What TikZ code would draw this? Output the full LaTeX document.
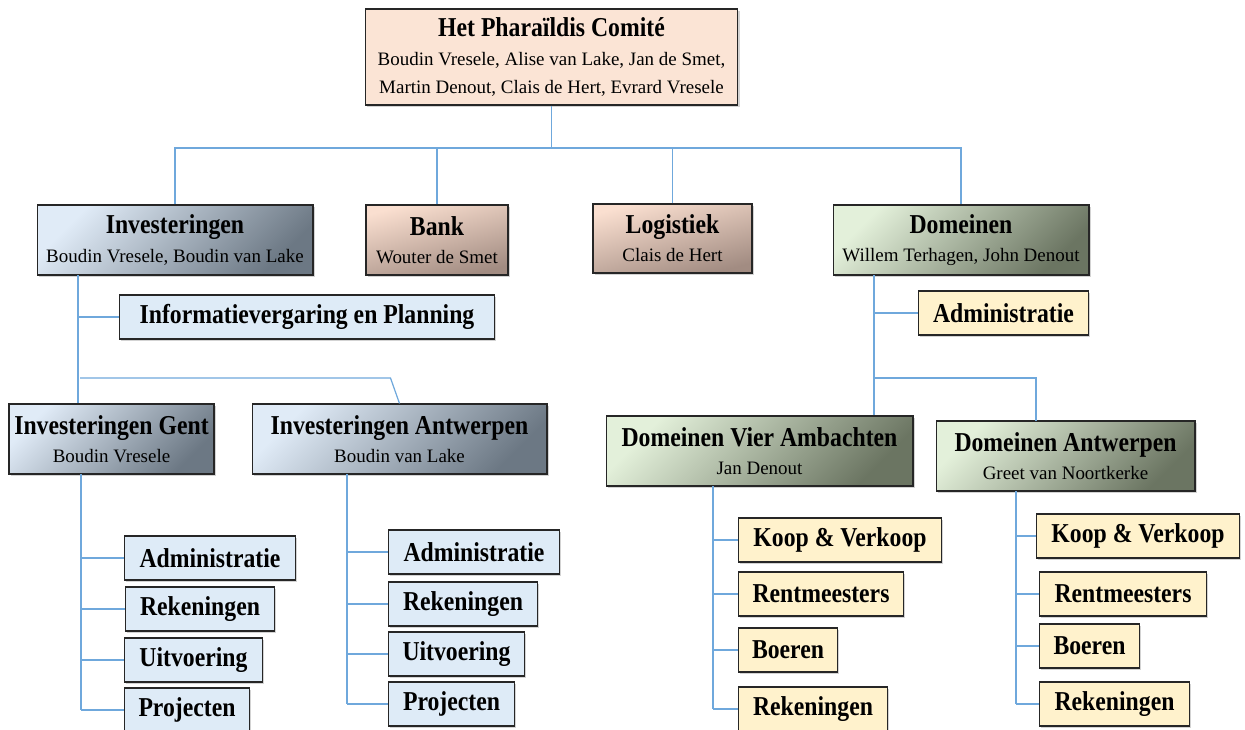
\documentclass[tikz,border=0pt]{standalone}
\usepackage{fontspec}
\setmainfont{Liberation Serif}
\usepackage{graphicx}
\usetikzlibrary{calc,shadows}

\definecolor{comite}{HTML}{FBE4D5}
\definecolor{invlight}{HTML}{E0EBF7}
\definecolor{invdark}{HTML}{6C7884}
\definecolor{banklight}{HTML}{FADFD0}
\definecolor{bankdark}{HTML}{A28C82}
\definecolor{domlight}{HTML}{E3F0DA}
\definecolor{domdark}{HTML}{6B7562}
\definecolor{itemblue}{HTML}{DEEBF7}
\definecolor{itemyellow}{HTML}{FFF2CC}
\definecolor{linkblue}{HTML}{6FA8DC}

\newcommand{\ttl}[1]{{\fontsize{13.5}{16}\selectfont\bfseries\scalebox{1}[1.15]{#1}}}
\newcommand{\nms}[1]{{\fontsize{10.8}{13}\selectfont #1}}

\tikzset{
  box/.style={draw=black!85, line width=0.6pt, align=center, inner sep=2pt,
    drop shadow={shadow xshift=1pt, shadow yshift=-1pt, opacity=0.35},
    execute at begin node=\setlength{\baselineskip}{16pt}},
  invbox/.style={box, top color=invlight, bottom color=invdark, shading angle=45},
  bankbox/.style={box, top color=banklight, bottom color=bankdark, shading angle=15},
  dombox/.style={box, top color=domlight, bottom color=domdark, shading angle=45},
  blueitem/.style={box, fill=itemblue, anchor=west, minimum height=0.88cm},
  yellowitem/.style={box, fill=itemyellow, anchor=west, minimum height=0.88cm},
  link/.style={draw=linkblue, line width=0.7pt},
}

\begin{document}
\begin{tikzpicture}[x=0.02cm, y=-0.02cm]
\useasboundingbox (0,0) rectangle (1245,730);

%% COMITE
\node[box, fill=comite, minimum width=7.46cm, minimum height=1.92cm](comite) at (551.5,57)
  {\ttl{Het Pharaïldis Comité}\\ \nms{Boudin Vresele, Alise van Lake, Jan de Smet,}\\ \nms{Martin Denout, Clais de Hert, Evrard Vresele}};

%% DEPARTMENTS
\node[invbox, minimum width=5.52cm, minimum height=1.4cm](inv) at (175,240)
  {\ttl{Investeringen}\\ \nms{Boudin Vresele, Boudin van Lake}};
\node[bankbox, minimum width=2.84cm, minimum height=1.4cm](bank) at (437,240)
  {\ttl{Bank}\\ \nms{Wouter de Smet}};
\node[bankbox, minimum width=3.18cm, minimum height=1.38cm](log) at (672.5,238.5)
  {\ttl{Logistiek}\\ \nms{Clais de Hert}};
\node[dombox, minimum width=5.12cm, minimum height=1.4cm](dom) at (961,240)
  {\ttl{Domeinen}\\ \nms{Willem Terhagen, John Denout}};

\coordinate (bus_top) at (551,148);
\draw[link] (comite.south) -- (comite.south |- bus_top);
\draw[link] (inv.north) |- (bus_top) -| (dom.north);
\draw[link] (bank.north) -- (bank.north |- bus_top);
\draw[link] (log.north) -- (log.north |- bus_top);

%% INVESTERINGEN
\node[blueitem, minimum width=7.5cm](inv_info) at (119,317) {\ttl{Informatievergaring en Planning}};
\node[invbox, minimum width=4.1cm, minimum height=1.4cm](inv_gent) at (111.5,439)
  {\ttl{Investeringen Gent}\\ \nms{Boudin Vresele}};
\node[invbox, minimum width=5.9cm, minimum height=1.4cm](inv_antw) at (399.5,439)
  {\ttl{Investeringen Antwerpen}\\ \nms{Boudin van Lake}};

\coordinate (inv_trunk) at (78,275);
\coordinate (inv_bus) at (80,378);
\draw[link] (inv_trunk) -- (inv_trunk |- inv_gent.north);
\draw[link] (inv_trunk |- inv_info.west) -- (inv_info.west);
\draw[link] (inv_bus) -- ($(inv_antw.north |- inv_bus)+(-9,0)$) -- (inv_antw.north);

% Gent
\node[blueitem, minimum width=3.42cm](g_adm) at (124,558) {\ttl{Administratie}};
\node[blueitem, minimum width=2.98cm](g_rek) at (125,609) {\ttl{Rekeningen}};
\node[blueitem, minimum width=2.76cm](g_uit) at (124,660) {\ttl{Uitvoering}};
\node[blueitem, minimum width=2.5cm](g_proj) at (124,710) {\ttl{Projecten}};

\coordinate (gent_trunk) at (81,474);
\draw[link] (gent_trunk) -- (gent_trunk |- g_proj.west);
\foreach \n in {g_adm,g_rek,g_uit,g_proj}
  \draw[link] (gent_trunk |- \n.west) -- (\n.west);

% Antwerpen
\node[blueitem, minimum width=3.42cm](a_adm) at (388,552) {\ttl{Administratie}};
\node[blueitem, minimum width=2.98cm](a_rek) at (388,604) {\ttl{Rekeningen}};
\node[blueitem, minimum width=2.72cm](a_uit) at (388,654) {\ttl{Uitvoering}};
\node[blueitem, minimum width=2.52cm](a_proj) at (388,704) {\ttl{Projecten}};

\coordinate (antw_trunk) at (347,474);
\draw[link] (antw_trunk) -- (antw_trunk |- a_proj.west);
\foreach \n in {a_adm,a_rek,a_uit,a_proj}
  \draw[link] (antw_trunk |- \n.west) -- (\n.west);

%% DOMEINEN
\node[yellowitem, minimum width=3.4cm](dom_adm) at (918,313) {\ttl{Administratie}};
\node[dombox, minimum width=6.14cm, minimum height=1.4cm](dom_vier) at (759.5,451)
  {\ttl{Domeinen Vier Ambachten}\\ \nms{Jan Denout}};
\node[dombox, minimum width=5.18cm, minimum height=1.4cm](dom_antw) at (1065.5,456)
  {\ttl{Domeinen Antwerpen}\\ \nms{Greet van Noortkerke}};

\coordinate (dom_trunk) at (874,275);
\coordinate (dom_bus) at (874,378);
\coordinate (dom_drop) at (1036,421);
\draw[link] (dom_trunk) -- (dom_trunk |- dom_vier.north);
\draw[link] (dom_trunk |- dom_adm.west) -- (dom_adm.west);
\draw[link] (dom_bus) -| (dom_drop);

% Vier Ambachten
\node[yellowitem, minimum width=4.06cm](v_koop) at (738,540) {\ttl{Koop \& Verkoop}};
\node[yellowitem, minimum width=3.3cm](v_rent) at (738,594) {\ttl{Rentmeesters}};
\node[yellowitem, minimum width=1.98cm](v_boer) at (738,650) {\ttl{Boeren}};
\node[yellowitem, minimum width=2.98cm](v_rek) at (738,709) {\ttl{Rekeningen}};

\coordinate (vier_trunk) at (713,486);
\draw[link] (vier_trunk) -- (vier_trunk |- v_rek.west);
\foreach \n in {v_koop,v_rent,v_boer,v_rek}
  \draw[link] (vier_trunk |- \n.west) -- (\n.west);

% Antwerpen
\node[yellowitem, minimum width=4.06cm](d_koop) at (1036,536) {\ttl{Koop \& Verkoop}};
\node[yellowitem, minimum width=3.34cm](d_rent) at (1039,594) {\ttl{Rentmeesters}};
\node[yellowitem, minimum width=2.0cm](d_boer) at (1039,646) {\ttl{Boeren}};
\node[yellowitem, minimum width=3.0cm](d_rek) at (1039,704) {\ttl{Rekeningen}};

\coordinate (domantw_trunk) at (1016,491);
\draw[link] (domantw_trunk) -- (domantw_trunk |- d_rek.west);
\foreach \n in {d_koop,d_rent,d_boer,d_rek}
  \draw[link] (domantw_trunk |- \n.west) -- (\n.west);

\end{tikzpicture}
\end{document}
